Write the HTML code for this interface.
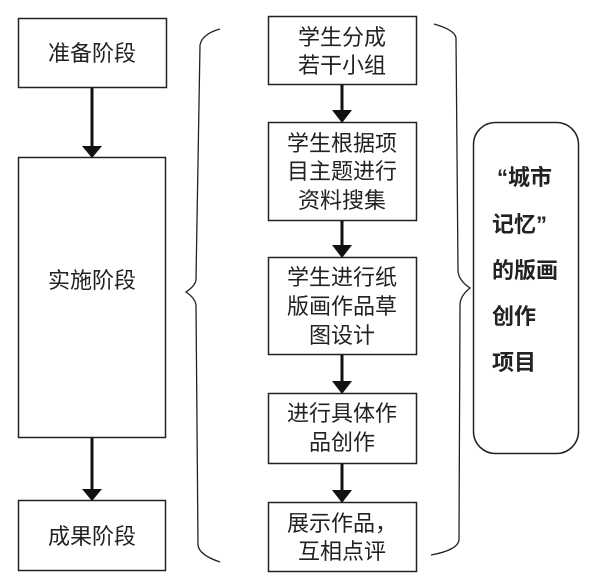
<!DOCTYPE html>
<html><head><meta charset="utf-8"><style>
body{margin:0;background:#fff;}
svg{display:block;}
text{font-family:"Liberation Sans","Noto Sans CJK SC",sans-serif;font-size:22px;fill:#222;}
.b{font-weight:bold;font-size:22px;}
</style></head><body>
<svg width="600" height="581" viewBox="0 0 600 581">
<g fill="none" stroke="#222" stroke-width="1.5">
<rect x="18.5" y="18.5" width="148" height="69"/>
<rect x="18.5" y="157.5" width="147" height="280"/>
<rect x="18.5" y="500.5" width="147" height="70"/>
<rect x="268.5" y="16.5" width="148" height="68"/>
<rect x="268.5" y="122.5" width="148" height="98"/>
<rect x="268.5" y="257.5" width="148" height="97"/>
<rect x="268.5" y="393.5" width="148" height="70"/>
<rect x="268.5" y="502.5" width="148" height="69"/>
<rect x="473.5" y="122.5" width="105" height="331" rx="22"/>
<path d="M220,29 Q202,34 200,45 L196,280 Q195,286 186,292 Q195,298 196,305 L198,545 Q199,555 220,562" stroke-width="1.3"/>
<path d="M434,24 Q455,30 456,38 L458,270 Q458,280 470,288 Q460,296 460,305 L459,540 Q458,550 431,555" stroke-width="1.3"/>
</g>
<g stroke="#111" stroke-width="3">
<line x1="92" y1="88" x2="92" y2="146"/>
<line x1="92" y1="438" x2="92" y2="489"/>
<line x1="342" y1="85" x2="342" y2="111"/>
<line x1="342" y1="221" x2="342" y2="246"/>
<line x1="342" y1="355" x2="342" y2="382"/>
<line x1="342" y1="464" x2="342" y2="491"/>
</g>
<g fill="#111">
<polygon points="82,146 102,146 92,158"/>
<polygon points="82,489 102,489 92,501"/>
<polygon points="332,110 352,110 342,123"/>
<polygon points="332,245 352,245 342,258"/>
<polygon points="332,381 352,381 342,394"/>
<polygon points="332,490 352,490 342,503"/>
</g>
<g text-anchor="middle">
<text x="92" y="61">准备阶段</text>
<text x="92" y="288">实施阶段</text>
<text x="92" y="544">成果阶段</text>
<text x="342" y="45">学生分成</text>
<text x="342" y="73">若干小组</text>
<text x="342" y="151">学生根据项</text>
<text x="342" y="179">目主题进行</text>
<text x="342" y="208">资料搜集</text>
<text x="342" y="285">学生进行纸</text>
<text x="342" y="314">版画作品草</text>
<text x="342" y="343">图设计</text>
<text x="342" y="421">进行具体作</text>
<text x="342" y="450">品创作</text>
<text x="342" y="531">展示作品，</text>
<text x="342" y="559">互相点评</text>
</g>
<text class="b" x="497" y="185">“城市</text>
<text class="b" x="492" y="232">记忆”</text>
<text class="b" x="492" y="278">的版画</text>
<text class="b" x="492" y="324">创作</text>
<text class="b" x="492" y="370">项目</text>
</svg>
</body></html>
